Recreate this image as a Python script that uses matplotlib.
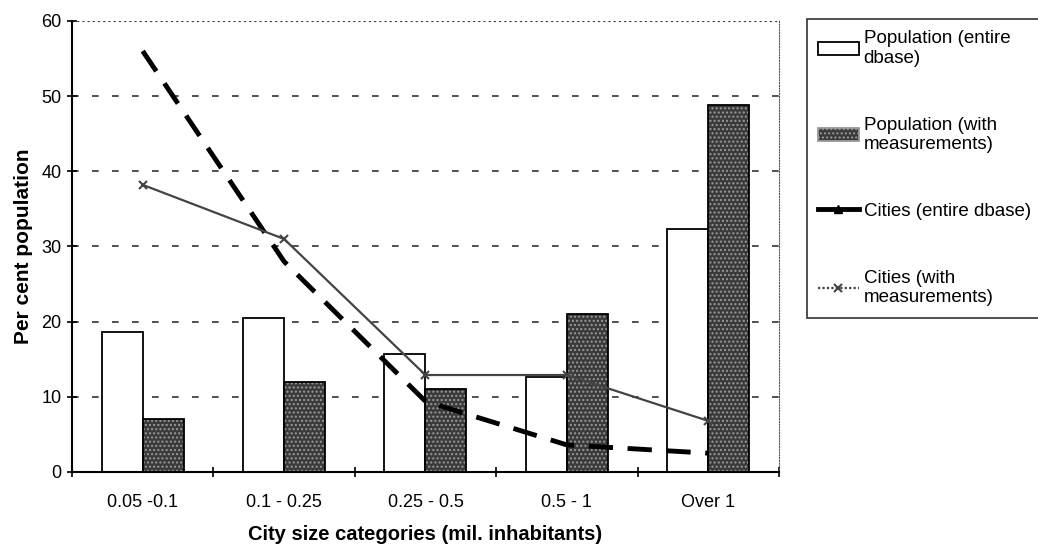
import numpy as np
import matplotlib.pyplot as plt
from matplotlib.patches import Patch
from matplotlib.lines import Line2D

plt.rcParams['font.family'] = ['Liberation Sans', 'DejaVu Sans']

categories = ["0.05 -0.1", "0.1 - 0.25", "0.25 - 0.5", "0.5 - 1", "Over 1"]
pop_entire = [18.6, 20.5, 15.7, 12.7, 32.3]
pop_measured = [7.1, 12.0, 11.0, 21.0, 48.8]
cities_entire = [56.0, 28.0, 9.4, 3.6, 2.5]
cities_measured = [38.2, 31.0, 12.9, 12.9, 6.8]

fig = plt.figure(figsize=(10.38, 5.44), dpi=100)
ax = fig.add_axes([0.0694, 0.1324, 0.681, 0.829])

x = np.arange(len(categories))
w = 0.29

ax.bar(x - 0.145, pop_entire, w, color="white", edgecolor="black", lw=1.3, zorder=2)
ax.bar(x + 0.145, pop_measured, w, color="#3a3a3a", edgecolor="#9a9a9a", hatch="....", lw=0, zorder=2)
ax.bar(x + 0.145, pop_measured, w, fill=False, edgecolor="black", lw=1.3, zorder=2)

ax.plot(x, cities_entire, color="black", lw=3.5, dashes=(5, 3), zorder=3)
ax.plot(x, cities_measured, color="#444444", lw=1.6, marker="x", ms=6, mew=1.5, zorder=3)

ax.set_xlim(-0.5, 4.5)
ax.set_ylim(0, 60)
ax.set_yticks(range(0, 61, 10))
ax.set_xticks(x)
ax.set_xticklabels(categories)
ax.set_xticks(np.arange(-0.5, 5, 1), minor=True)
ax.tick_params(axis="x", which="major", length=0, pad=16, labelsize=13)
ax.tick_params(axis="x", which="minor", length=7, direction="inout", width=1.2)
ax.tick_params(axis="y", length=7, direction="inout", width=1.2, labelsize=13, pad=4)

for v in range(10, 60, 10):
    ax.axhline(v, color="#333333", lw=1.2, dashes=(4, 8), zorder=1)
ax.axhline(60, color="#333333", lw=1.5, ls=(0, (1, 1.5)), zorder=1)

ax.spines["top"].set_visible(False)
ax.spines["right"].set_linestyle((0, (1, 1.5)))
ax.spines["right"].set_color("#555555")
ax.spines["left"].set_linewidth(1.5)
ax.spines["bottom"].set_linewidth(1.5)

ax.set_ylabel("Per cent population", fontsize=15, fontweight="bold", labelpad=6)
ax.set_xlabel("City size categories (mil. inhabitants)", fontsize=14.5, fontweight="bold", labelpad=10)

handles = [
    Patch(facecolor="white", edgecolor="black", lw=1.3),
    Patch(facecolor="#3a3a3a", edgecolor="#9a9a9a", hatch="....", lw=1.3),
    Line2D([], [], color="black", lw=3.5, marker="^", ms=6),
    Line2D([], [], color="#444444", lw=1.6, ls=(0, (1, 1)), marker="x", ms=6, mew=1.5),
]
labels = [
    "Population (entire\ndbase)",
    "Population (with\nmeasurements)",
    "Cities (entire dbase)",
    "Cities (with\nmeasurements)",
]
leg = fig.legend(handles, labels, loc="upper left", bbox_to_anchor=(0.777, 0.965),
                 frameon=True, fancybox=False, edgecolor="black", fontsize=13.5,
                 labelspacing=2.65, handlelength=2.2, handletextpad=0.25,
                 borderpad=0.6, borderaxespad=0)
leg.get_frame().set_linewidth(1.2)

fig.savefig("out.png", dpi=100)
